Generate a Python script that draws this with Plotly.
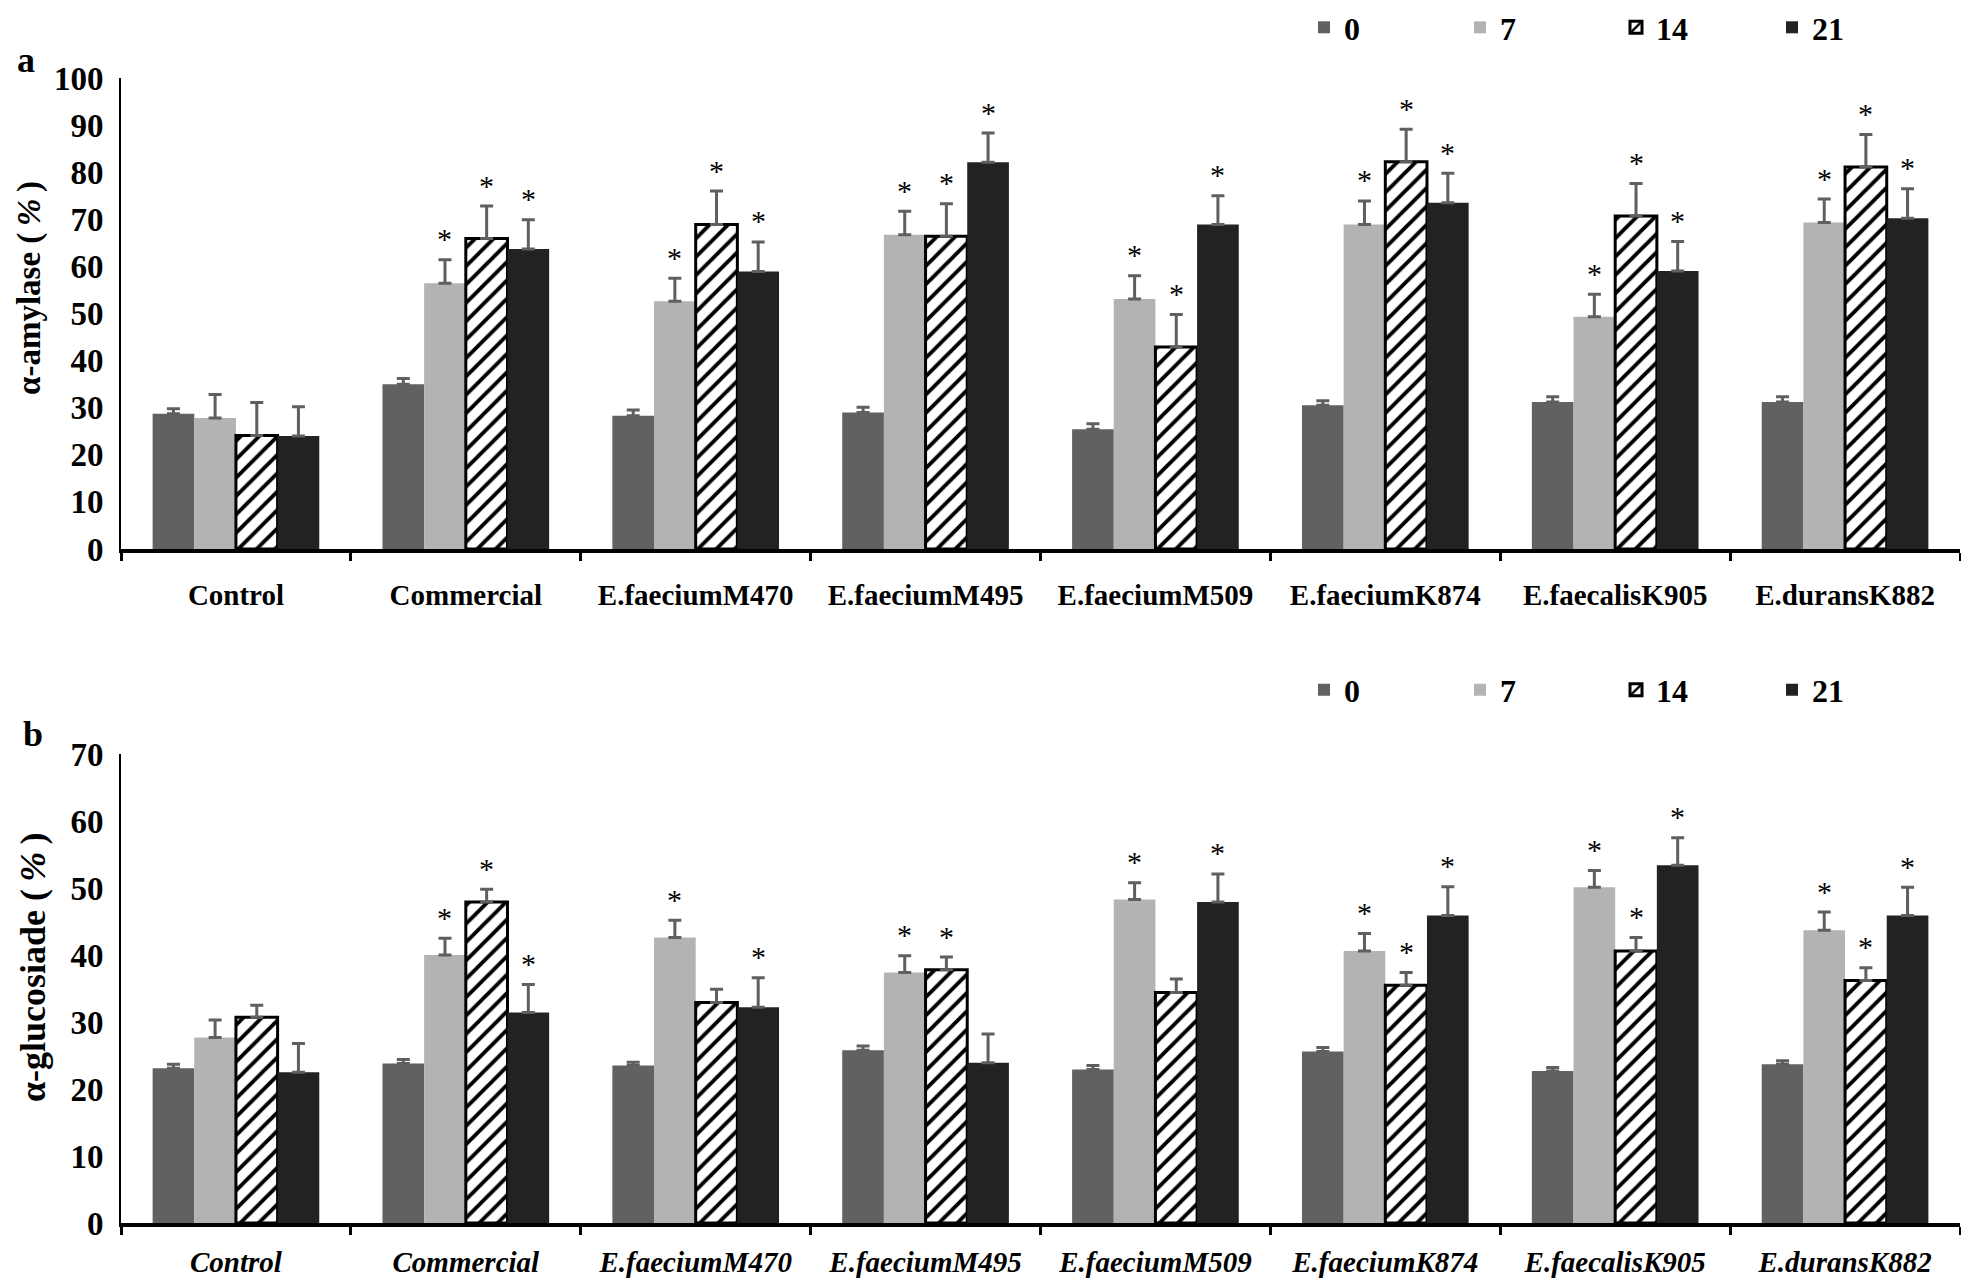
import plotly.graph_objects as go

categories = ["Control", "Commercial", "E.faeciumM470", "E.faeciumM495",
              "E.faeciumM509", "E.faeciumK874", "E.faecalisK905", "E.duransK882"]
days = ["0", "7", "14", "21"]

# panel a: alpha-amylase (%)
amylase_0 = [28.7, 35.0, 28.3, 29.0, 25.4, 30.5, 31.2, 31.2]
amylase_7 = [27.8, 56.4, 52.6, 66.7, 53.1, 68.9, 49.3, 69.3]
amylase_14 = [24.1, 65.9, 68.9, 66.4, 42.9, 82.2, 70.7, 81.1]
amylase_21 = [24.0, 63.7, 58.9, 82.1, 68.9, 73.5, 59.0, 70.2]
amylase_err_0 = [1.1, 1.2, 1.2, 1.1, 1.2, 1.0, 1.1, 1.1]
amylase_err_7 = [5.0, 5.0, 4.9, 5.0, 4.9, 5.0, 4.8, 5.0]
amylase_err_14 = [7.0, 6.9, 7.1, 6.9, 6.9, 6.9, 6.9, 6.9]
amylase_err_21 = [6.2, 6.2, 6.3, 6.2, 6.1, 6.3, 6.3, 6.3]
amylase_star_0 = [0, 0, 0, 0, 0, 0, 0, 0]
amylase_star_7 = [0, 1, 1, 1, 1, 1, 1, 1]
amylase_star_14 = [0, 1, 1, 1, 1, 1, 1, 1]
amylase_star_21 = [0, 1, 1, 1, 1, 1, 1, 1]

# panel b: alpha-glucosidase (%)
gluco_0 = [23.1, 23.8, 23.5, 25.8, 22.9, 25.6, 22.7, 23.7]
gluco_7 = [27.7, 40.0, 42.6, 37.4, 48.3, 40.6, 50.1, 43.7]
gluco_14 = [30.7, 47.9, 32.9, 37.8, 34.4, 35.5, 40.6, 36.2]
gluco_21 = [22.5, 31.4, 32.2, 23.9, 47.9, 45.9, 53.4, 45.9]
gluco_err_0 = [0.6, 0.6, 0.5, 0.6, 0.6, 0.6, 0.5, 0.5]
gluco_err_7 = [2.6, 2.5, 2.6, 2.5, 2.5, 2.6, 2.5, 2.7]
gluco_err_14 = [1.8, 1.9, 2.0, 1.9, 2.0, 1.9, 2.0, 1.9]
gluco_err_21 = [4.3, 4.2, 4.4, 4.3, 4.2, 4.3, 4.1, 4.2]
gluco_star_0 = [0, 0, 0, 0, 0, 0, 0, 0]
gluco_star_7 = [0, 1, 1, 1, 1, 1, 1, 1]
gluco_star_14 = [0, 1, 0, 1, 0, 1, 1, 1]
gluco_star_21 = [0, 1, 1, 0, 1, 1, 1, 1]

W, H = 1961, 1278
FONT = "Liberation Serif"
BARGAP = 0.275
colors = ["#616161", "#b3b3b3", "#ffffff", "#222222"]

panels = [
    dict(vals=[amylase_0, amylase_7, amylase_14, amylase_21],
         errs=[amylase_err_0, amylase_err_7, amylase_err_14, amylase_err_21],
         stars=[amylase_star_0, amylase_star_7, amylase_star_14, amylase_star_21],
         xa="x", ya="y", legend="legend"),
    dict(vals=[gluco_0, gluco_7, gluco_14, gluco_21],
         errs=[gluco_err_0, gluco_err_7, gluco_err_14, gluco_err_21],
         stars=[gluco_star_0, gluco_star_7, gluco_star_14, gluco_star_21],
         xa="x2", ya="y2", legend="legend2"),
]

fig = go.Figure()
xidx = list(range(len(categories)))
group_w = 1 - BARGAP
star_annotations = []
for p in panels:
    for k, d in enumerate(days):
        hatched = (d == "14")
        marker = dict(color=colors[k], line=dict(width=0))
        if hatched:
            marker = dict(color="white",
                          pattern=dict(shape="/", fgcolor="black", bgcolor="white",
                                       size=13, solidity=0.3, fillmode="replace"),
                          line=dict(color="black", width=3))
        fig.add_trace(go.Bar(
            x=xidx, y=p["vals"][k], name=d, marker=marker,
            xaxis=p["xa"], yaxis=p["ya"], legend=p["legend"],
            error_y=dict(type="data", symmetric=False, array=p["errs"][k],
                         arrayminus=[0] * len(categories),
                         color="#5f5f5f", thickness=3, width=6.5),
        ))
    for k, d in enumerate(days):
        off = -group_w / 2 + (k + 0.5) * group_w / 4
        for i in xidx:
            if p["stars"][k][i]:
                star_annotations.append(dict(
                    x=i + off, y=p["vals"][k][i] + p["errs"][k][i],
                    xref=p["xa"], yref=p["ya"], text="*", showarrow=False,
                    xanchor="center", yanchor="middle", yshift=21,
                    font=dict(family=FONT, size=30, color="black")))

xdom = [121 / W, 1960 / W]
minor_vals = [i - 0.5 for i in range(len(categories) + 1)]


def xaxis(italic, lab_len, anchor):
    return dict(
        domain=xdom, anchor=anchor, range=[-0.5, len(categories) - 0.5],
        tickmode="array", tickvals=xidx, ticktext=categories,
        ticks="outside", ticklen=lab_len, tickcolor="rgba(0,0,0,0)",
        minor=dict(tickmode="array", tickvals=minor_vals, ticks="outside",
                   ticklen=8, tickwidth=3, tickcolor="black", showgrid=False),
        showline=True, linecolor="black", linewidth=3.5,
        showgrid=False, zeroline=False, automargin=False,
        tickfont=dict(family=FONT, size=29, color="black", weight="bold",
                      style="italic" if italic else "normal"),
        fixedrange=True,
    )


def yaxis(rng, dom, anchor):
    return dict(
        domain=dom, anchor=anchor, range=rng, dtick=10, tick0=0,
        ticks="outside", ticklen=9, tickcolor="rgba(0,0,0,0)",
        showline=True, linecolor="black", linewidth=2,
        showgrid=False, zeroline=False, automargin=False,
        tickfont=dict(family=FONT, size=33, color="black", weight="bold"),
        fixedrange=True,
    )


legend_common = dict(
    orientation="h", xanchor="left",
    font=dict(family=FONT, size=32, color="black", weight="bold"),
    entrywidth=111, entrywidthmode="pixels", bgcolor="rgba(0,0,0,0)",
    traceorder="normal",
)

TS = "\u2009"  # thin space
fig.update_layout(
    width=W, height=H,
    margin=dict(l=0, r=0, t=0, b=0, pad=0),
    paper_bgcolor="white", plot_bgcolor="white",
    barmode="group", bargap=BARGAP, bargroupgap=0,
    xaxis=xaxis(False, 17, "y"),
    yaxis=yaxis([0, 100], [1 - 549 / H, 1 - 78 / H], "x"),
    xaxis2=xaxis(True, 10, "y2"),
    yaxis2=yaxis([0, 70], [1 - 1223 / H, 1 - 754 / H], "x2"),
    legend=dict(x=1304 / W, y=1.0, yanchor="top", **legend_common),
    legend2=dict(x=1304 / W, y=1 - 690 / H, yanchor="middle", **legend_common),
    showlegend=True,
    annotations=star_annotations + [
        dict(text="a", x=26 / W, y=1 - 60 / H, xref="paper", yref="paper",
             showarrow=False, xanchor="center", yanchor="middle",
             font=dict(family=FONT, size=36, color="black", weight="bold")),
        dict(text="b", x=33 / W, y=1 - 734 / H, xref="paper", yref="paper",
             showarrow=False, xanchor="center", yanchor="middle",
             font=dict(family=FONT, size=36, color="black", weight="bold")),
        dict(text="α-amylase (" + TS + "<i>%</i>" + TS + ")", x=29 / W, y=1 - 288 / H,
             xref="paper", yref="paper", showarrow=False, textangle=-90,
             xanchor="center", yanchor="middle",
             font=dict(family=FONT, size=33, color="black", weight="bold")),
        dict(text="α-glucosiade (" + TS + "<i>%</i>" + TS + ")", x=33 / W, y=1 - 967 / H,
             xref="paper", yref="paper", showarrow=False, textangle=-90,
             xanchor="center", yanchor="middle",
             font=dict(family=FONT, size=36, color="black", weight="bold")),
    ],
)

fig.write_html("out.html",
               config={"displayModeBar": False},
               post_script="document.body.style.margin='0px';"
                           "document.body.style.overflow='hidden';")
